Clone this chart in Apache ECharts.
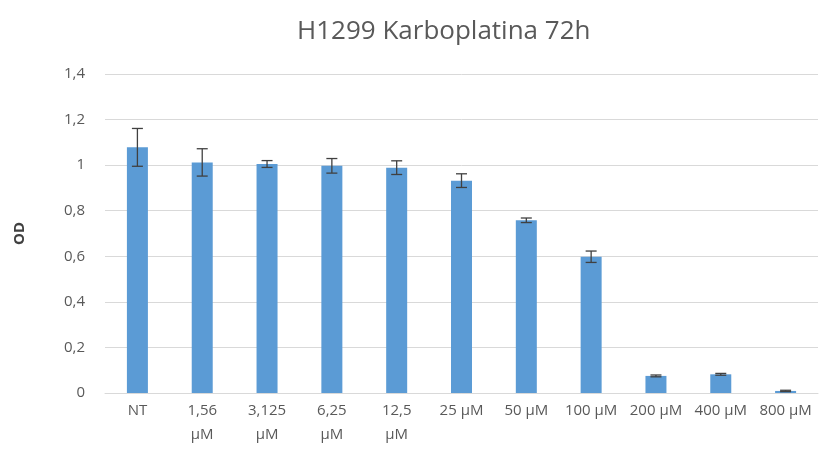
<!DOCTYPE html>
<html>
<head>
<meta charset="utf-8">
<script src="https://cdn.jsdelivr.net/npm/echarts@6/dist/echarts.min.js"></script>
<style>html,body{margin:0;padding:0;background:#fff;}#c{width:821px;height:455px;}</style>
</head>
<body>
<div id="c"></div>
<script>
const categories = ['NT', '1,56\nµM', '3,125\nµM', '6,25\nµM', '12,5\nµM', '25 µM', '50 µM', '100 µM', '200 µM', '400 µM', '800 µM'];
const odValues = [1.078, 1.012, 1.005, 0.997, 0.989, 0.932, 0.758, 0.598, 0.075, 0.082, 0.009];
const odErrors = [0.083, 0.060, 0.015, 0.032, 0.030, 0.030, 0.010, 0.025, 0.004, 0.004, 0.003];
const titleText = 'H1299 Karboplatina 72h';
const yAxisName = 'OD';

const errData = odValues.map((v, i) => [i, v - odErrors[i], v + odErrors[i]]);
const FONT = "'Open Sans', sans-serif";

const chart = echarts.init(document.getElementById('c'), null, {renderer: 'canvas'});
chart.setOption({
  animation: false,
  backgroundColor: '#ffffff',
  title: {
    text: titleText,
    left: 297,
    top: 19,
    padding: 0,
    textStyle: {fontFamily: FONT, fontSize: 26, fontWeight: 'normal', color: '#595959'}
  },
  grid: {left: 105, right: 3, top: 74, bottom: 62, containLabel: false},
  xAxis: {
    type: 'category',
    data: categories,
    axisLine: {lineStyle: {color: '#d9d9d9', width: 1}},
    axisTick: {show: false},
    axisLabel: {fontFamily: FONT, fontSize: 15, color: '#595959', margin: 6, lineHeight: 24, interval: 0}
  },
  yAxis: {
    type: 'value',
    min: 0,
    max: 1.4,
    interval: 0.2,
    name: yAxisName,
    nameLocation: 'middle',
    nameGap: 78,
    nameTextStyle: {fontFamily: FONT, fontSize: 15, fontWeight: 'bold', color: '#404040'},
    axisLine: {show: false},
    axisTick: {show: false},
    splitLine: {lineStyle: {color: '#d9d9d9', width: 1}},
    axisLabel: {
      fontFamily: FONT, fontSize: 15, color: '#595959', margin: 20,
      formatter: v => String(Math.round(v * 10) / 10).replace('.', ',')
    }
  },
  series: [
    {
      type: 'bar',
      data: odValues,
      barWidth: 21,
      itemStyle: {color: '#5b9bd5'}
    },
    {
      type: 'custom',
      data: errData,
      z: 10,
      renderItem: function (params, api) {
        const x = api.value(0);
        const lo = api.coord([x, api.value(1)]);
        const hi = api.coord([x, api.value(2)]);
        const hw = 5.5;
        const style = {stroke: '#404040', lineWidth: 1.3};
        return {
          type: 'group',
          children: [
            {type: 'line', shape: {x1: hi[0], y1: hi[1], x2: lo[0], y2: lo[1]}, style: style},
            {type: 'line', shape: {x1: hi[0] - hw, y1: hi[1], x2: hi[0] + hw, y2: hi[1]}, style: style},
            {type: 'line', shape: {x1: lo[0] - hw, y1: lo[1], x2: lo[0] + hw, y2: lo[1]}, style: style}
          ]
        };
      }
    }
  ]
});
</script>
</body>
</html>
